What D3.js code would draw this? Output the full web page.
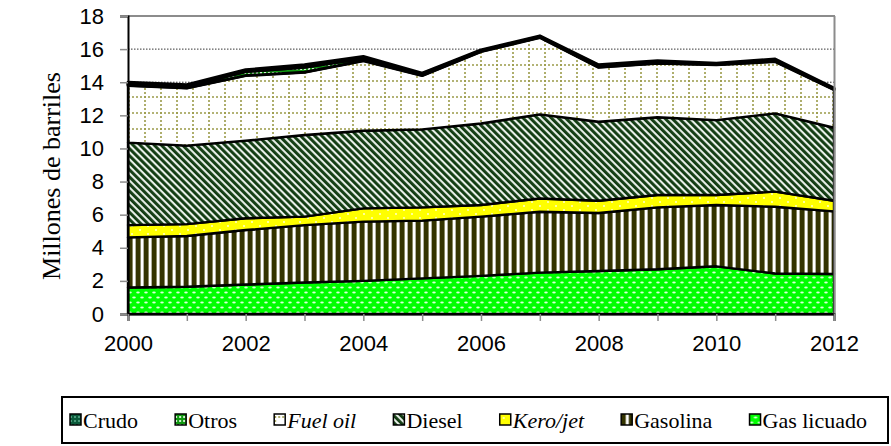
<!DOCTYPE html>
<html><head><meta charset="utf-8">
<script src="https://cdn.jsdelivr.net/npm/d3@7"></script>
<style>html,body{margin:0;padding:0;background:#fff;}svg{display:block;}</style>
</head><body>
<script>
const years = [2000,2001,2002,2003,2004,2005,2006,2007,2008,2009,2010,2011,2012];
const gasLicuado = [1.60,1.65,1.78,1.90,2.00,2.15,2.30,2.50,2.60,2.70,2.88,2.45,2.42];
const gasolina   = [3.03,3.06,3.29,3.47,3.58,3.49,3.58,3.68,3.50,3.74,3.70,4.03,3.78];
const keroJet    = [0.74,0.72,0.71,0.51,0.80,0.80,0.70,0.80,0.74,0.75,0.61,0.91,0.64];
const diesel     = [4.98,4.74,4.69,4.93,4.69,4.71,4.93,5.08,4.77,4.69,4.52,4.73,4.41];
const fuelOil    = [3.45,3.48,3.93,3.79,4.23,3.25,4.34,4.64,3.29,3.27,3.34,3.13,2.30];
const otros      = [0.10,0.10,0.25,0.30,0.15,0.10,0.05,0.05,0.10,0.05,0.05,0.05,0.05];
const crudo      = [0.10,0.10,0.10,0.15,0.10,0.05,0.05,0.05,0.05,0.10,0.05,0.10,0.05];
const yTicks = [0,2,4,6,8,10,12,14,16,18];
const xLabels = [2000,2002,2004,2006,2008,2010,2012];
const seriesNames = ["Gas licuado","Gasolina","Kero/jet","Diesel","Fuel oil","Otros","Crudo"];
const seriesValues = [gasLicuado,gasolina,keroJet,diesel,fuelOil,otros,crudo];
const legendOrder = ["Crudo","Otros","Fuel oil","Diesel","Kero/jet","Gasolina","Gas licuado"];
const italicNames = ["Fuel oil","Kero/jet"];
const yTitle = "Millones de barriles";

const W = 891, H = 446;
const svg = d3.select("body").append("svg").attr("width", W).attr("height", H);
const defs = svg.append("defs");

function pat(id, w, h, transform) {
  const p = defs.append("pattern").attr("id", id).attr("patternUnits", "userSpaceOnUse")
    .attr("width", w).attr("height", h);
  if (transform) p.attr("patternTransform", transform);
  return p;
}
let p;
p = pat("pGas", 8, 10);
p.append("rect").attr("width", 8).attr("height", 10).attr("fill", "#00ff00");
p.append("ellipse").attr("cx", 2).attr("cy", 2.5).attr("rx", 1.8).attr("ry", 1.1).attr("fill", "#d8ffd8");
p.append("ellipse").attr("cx", 6).attr("cy", 7.5).attr("rx", 1.8).attr("ry", 1.1).attr("fill", "#d8ffd8");
p = pat("pGasolina", 8, 8);
p.append("rect").attr("width", 8).attr("height", 8).attr("fill", "#ffffff");
p.append("rect").attr("x", 0).attr("width", 4).attr("height", 8).attr("fill", "#333300");
p.append("rect").attr("x", 4).attr("width", 1).attr("height", 8).attr("fill", "#8a8a66");
p.append("rect").attr("x", 7).attr("width", 1).attr("height", 8).attr("fill", "#b0b0a0");
p = pat("pKero", 16, 8);
p.append("rect").attr("width", 16).attr("height", 8).attr("fill", "#ffff00");
p.append("circle").attr("cx", 4).attr("cy", 2).attr("r", 1).attr("fill", "#ffffcc");
p.append("circle").attr("cx", 12).attr("cy", 6).attr("r", 1).attr("fill", "#ffffcc");
p = pat("pDiesel", 5, 5, "rotate(-45)");
p.append("rect").attr("width", 5).attr("height", 5).attr("fill", "#e8efe8");
p.append("rect").attr("width", 2.9).attr("height", 5).attr("fill", "#123c12");
p = pat("pFuel", 16, 16);
p.append("rect").attr("width", 16).attr("height", 16).attr("fill", "#ffffff");
p.append("line").attr("x1", 1).attr("y1", 0).attr("x2", 1).attr("y2", 16)
  .attr("stroke", "#9a9a48").attr("stroke-width", 1.6).attr("stroke-dasharray", "2,2");
p.append("line").attr("x1", 0).attr("y1", 1).attr("x2", 16).attr("y2", 1)
  .attr("stroke", "#9a9a48").attr("stroke-width", 1.6).attr("stroke-dasharray", "2,2");
p = pat("pOtros", 4, 4);
p.append("rect").attr("width", 4).attr("height", 4).attr("fill", "#119911");
p.append("rect").attr("x", 0).attr("y", 0).attr("width", 2).attr("height", 2).attr("fill", "#d0f0d0");
p = pat("pCrudo", 4, 4);
p.append("rect").attr("width", 4).attr("height", 4).attr("fill", "#0a5a3a");
p.append("rect").attr("x", 0).attr("y", 0).attr("width", 2).attr("height", 2).attr("fill", "#4a9a7a");

const fills = {"Gas licuado":"url(#pGas)","Gasolina":"url(#pGasolina)","Kero/jet":"url(#pKero)",
  "Diesel":"url(#pDiesel)","Fuel oil":"url(#pFuel)","Otros":"url(#pOtros)","Crudo":"url(#pCrudo)"};

const x = d3.scaleLinear().domain([2000, 2012]).range([128, 834]);
const y = d3.scaleLinear().domain([0, 18]).range([314, 16]);

svg.append("g").selectAll("line").data(yTicks.filter(t => t > 0 && t < 18)).join("line")
  .attr("x1", x(2000)).attr("x2", x(2012)).attr("y1", d => y(d)).attr("y2", d => y(d))
  .attr("stroke", "#000").attr("stroke-width", 0.8).attr("stroke-dasharray", "1.5,1.5");

const rows = years.map((yr, i) => {
  const r = {year: yr};
  seriesNames.forEach((n, k) => r[n] = seriesValues[k][i]);
  return r;
});
const stacked = d3.stack().keys(seriesNames)(rows);
const area = d3.area().x(d => x(d.data.year)).y0(d => y(d[0])).y1(d => y(d[1]));
svg.append("g").selectAll("path").data(stacked).join("path")
  .attr("d", area).attr("fill", d => fills[d.key])
  .attr("stroke", "#000").attr("stroke-width", d => (d.key === "Crudo" || d.key === "Otros") ? 3 : 2.4)
  .attr("stroke-linejoin", "round");

svg.append("line").attr("x1", x(2000)).attr("x2", x(2012)+1).attr("y1", y(18)).attr("y2", y(18))
  .attr("stroke", "#8c8c8c").attr("stroke-width", 2);
svg.append("line").attr("x1", x(2012)+0.5).attr("x2", x(2012)+0.5).attr("y1", y(18)).attr("y2", y(0))
  .attr("stroke", "#8c8c8c").attr("stroke-width", 2);

const yAxis = svg.append("g").attr("transform", `translate(${x(2000)},0)`)
  .call(d3.axisLeft(y).tickValues(yTicks).tickSize(8).tickPadding(16).tickFormat(d3.format("d")));
yAxis.select(".domain").attr("stroke", "#000").attr("stroke-width", 2);
yAxis.selectAll(".tick line").attr("stroke", "#8c8c8c").attr("stroke-width", 1.5);
yAxis.selectAll("text").attr("font-family", "Liberation Sans, Arial, sans-serif").attr("font-size", 22).attr("fill", "#000");

const xAxis = svg.append("g").attr("transform", `translate(0,${y(0)})`)
  .call(d3.axisBottom(x).tickValues(years).tickSize(7).tickPadding(14)
    .tickFormat(d => xLabels.includes(d) ? String(d) : ""));
xAxis.select(".domain").attr("stroke", "#000").attr("stroke-width", 2);
xAxis.selectAll(".tick line").attr("stroke", "#8c8c8c").attr("stroke-width", 1.5);
xAxis.selectAll("text").attr("font-family", "Liberation Sans, Arial, sans-serif").attr("font-size", 22).attr("fill", "#000");

svg.append("text").attr("transform", "translate(60,176) rotate(-90)")
  .attr("text-anchor", "middle").attr("font-family", "Liberation Serif, Times New Roman, serif")
  .attr("font-size", 26).text(yTitle);

const lg = svg.append("g");
lg.append("rect").attr("x", 62).attr("y", 397).attr("width", 826).attr("height", 46)
  .attr("fill", "#fff").attr("stroke", "#000").attr("stroke-width", 2);
const items = legendOrder.map(n => {
  const g = lg.append("g");
  g.append("rect").attr("x", 0).attr("y", 414).attr("width", 11).attr("height", 11)
    .attr("fill", fills[n]).attr("stroke", "#000").attr("stroke-width", 1.5);
  const t = g.append("text").attr("x", 13).attr("y", 428)
    .attr("font-family", "Liberation Serif, Times New Roman, serif").attr("font-size", 22)
    .attr("font-style", italicNames.includes(n) ? "italic" : "normal").text(n);
  return {g, w: 13 + t.node().getComputedTextLength()};
});
const totalW = d3.sum(items, d => d.w);
const gap = (867 - 70 - totalW) / (items.length - 1);
let lx = 70;
items.forEach(it => { it.g.attr("transform", `translate(${lx},0)`); lx += it.w + gap; });
</script>
</body></html>
